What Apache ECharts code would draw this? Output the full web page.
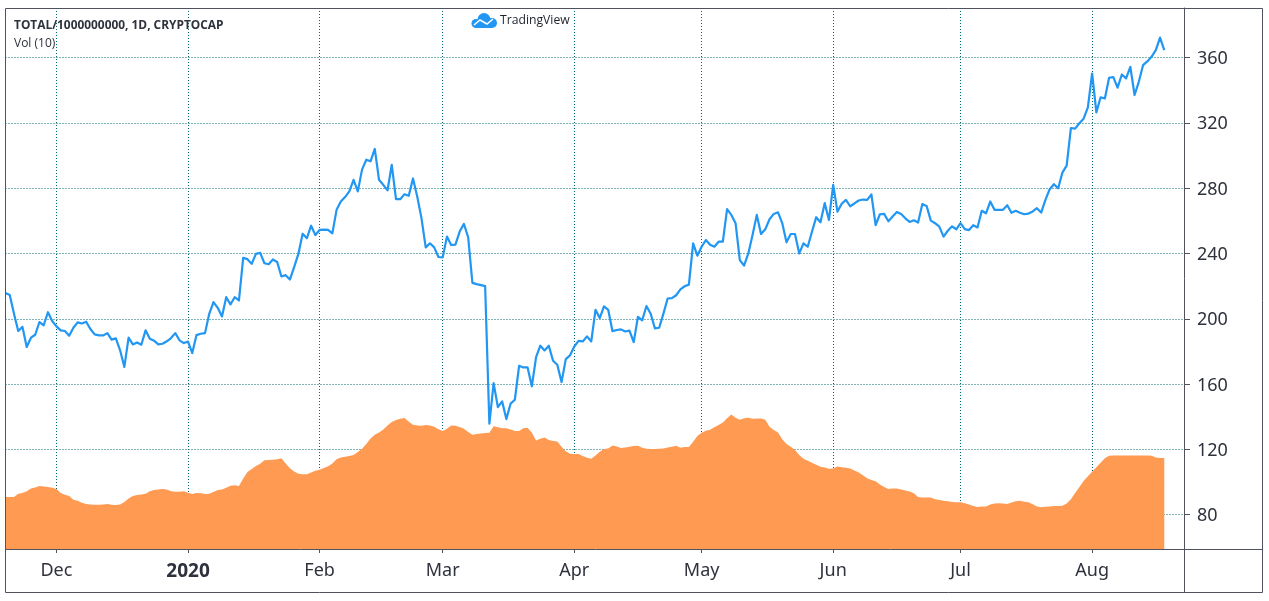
<!DOCTYPE html>
<html>
<head>
<meta charset="utf-8">
<title>TOTAL/1000000000, 1D, CRYPTOCAP</title>
<script src="https://cdn.jsdelivr.net/npm/echarts@6/dist/echarts.min.js"></script>
<style>
  html, body { margin: 0; padding: 0; background: #fff; }
  #main { width: 1269px; height: 601px; }
</style>
</head>
<body>
<div id="main"></div>
<script>
// daily values, first one is 2019-11-19
var firstDay = '2019-11-19';
var paddingDays = 5;

var priceValues = [
  215.7, 214.5, 203, 192.5, 195, 182.7, 188.4, 190.2, 198, 196, 204, 198.6,
  195.3, 192.9, 192.5, 189.6, 194.5, 197.8, 197.1, 198.2, 193.7, 190.4, 189.8, 189.8, 191.2, 187.2, 188, 180.7, 170.5, 188.4, 184.3, 185.5, 184.1, 192.9, 187.8, 186.6, 184.3, 184.7, 186.2, 188.2, 191.2, 186.8, 185.1,
  186, 179, 190, 190.8, 191.2, 203, 210.2, 206.7, 201.4, 213.2, 208.8, 213.2, 211.2, 237.3, 236.5, 233.6, 239.7, 240.3, 234, 233.4, 236.3, 234.8, 225.9, 226.7, 224, 231.6, 239.7, 252, 249.3, 257, 251.3,
  254.4, 254.6, 254.4, 252.3, 266.7, 271.8, 274.5, 278, 285.1, 278, 291.3, 297.4, 296.4, 304, 285.1, 282, 278.6, 294.3, 273.2, 273.2, 276.3, 275.3, 285.9, 274.9, 261.6, 243.7, 246.2, 243.7, 237.8,
  237.6, 250.3, 245.2, 245.4, 253.4, 258.1, 249.9, 222, 221.2, 220.6, 220, 135.7, 160.6, 145.9, 149.4, 138.6, 148, 150.4, 171.2, 170.2, 170.2, 158.6, 176.5, 183.5, 180.6, 183.5, 174.3, 171.8, 161.2, 175.3, 177.6,
  183, 186.5, 186.1, 189.2, 186.1, 205.5, 200.4, 207.6, 205.5, 192.4, 193.1, 193.5, 192.2, 192.7, 185.7, 201.2, 199, 207.8, 203.1, 194.1, 194.5, 203.1, 212.4, 212.6, 214.4, 218, 219.9, 220.9, 246.2, 238.6,
  244.1, 248.2, 245.3, 244.1, 247.2, 247.2, 267.1, 263.6, 258.5, 235.9, 232.6, 240, 251.3, 263.6, 251.9, 254.8, 260.9, 264.2, 265.2, 258.5, 246.8, 251.9, 251.9, 240, 246.2, 244.1, 253.3, 262.2, 259.1, 270.8, 260.5,
  282, 265.6, 270.4, 272.8, 268.9, 270.6, 272.4, 273, 272.8, 276.1, 257.4, 264, 264.2, 259.7, 262.6, 265.4, 264.2, 261.5, 259.3, 260.3, 258.9, 270.2, 269.1, 260.1, 258.5, 256.4, 250.3, 253.9, 256.6, 254.8,
  258.5, 254.9, 254.3, 257.3, 255.9, 266.1, 264.6, 271.8, 266.7, 266.7, 266.7, 269.5, 264.9, 266.1, 264.9, 264, 264.4, 265.7, 267.7, 265, 272.8, 279.3, 282.4, 279.9, 289.5, 293.8, 316.8, 316.4, 319.7, 322.5, 329.4,
  350.2, 326.4, 335.6, 334.9, 347.6, 348, 341.5, 349.6, 347.2, 354.3, 337, 345.1, 355.3, 357.6, 360.4, 364.5, 372.2, 364.5
];

// Vol (10) read against the same price scale, as it is drawn in the picture
var volumeValues = [
  90.8, 90.8, 90.8, 92.9, 93.3, 94.3, 96.1, 96.7, 97.6, 97.3, 96.9, 96.5,
  95.7, 93.3, 92.2, 91.4, 89.2, 88.6, 87.3, 86.5, 86.3, 86.1, 86.1, 86.3, 86.5, 86.1, 85.9, 86.3, 87.8, 90, 91.4, 92, 92.4, 92.9, 94.3, 95.1, 95.5, 95.7, 95.5, 94.3, 94.1, 94.1, 94.3,
  93.5, 92.7, 93.3, 93.1, 92.7, 92.9, 93.9, 95.1, 95.5, 96.5, 97.8, 98, 97.6, 102.2, 106.1, 108, 109.8, 111.2, 113.3, 113.5, 113.7, 113.9, 114.5, 111.4, 108.4, 106.5, 105.1, 104.7, 104.7, 105.9, 106.9,
  107.6, 108.6, 109.6, 111.4, 113.9, 115.1, 115.5, 115.9, 116.5, 118.4, 120.4, 123.3, 126.7, 129, 130.4, 132.2, 134.7, 136.7, 138, 138.8, 139.2, 136.9, 135.1, 134.7, 134.5, 134.9, 134.7, 133.9, 132.4,
  131.2, 132.7, 134.7, 134.5, 133.7, 132.7, 130.6, 129, 129.4, 129.8, 130, 130.2, 134.1, 133.5, 132.9, 132.9, 132.2, 131.2, 131.2, 132.9, 133.3, 130.2, 125.5, 126.5, 127.3, 125.7, 125.1, 124.9, 121.6, 118.8, 117.3,
  117.1, 117.1, 115.9, 114.9, 114.3, 116.3, 118.6, 120.2, 120.6, 122.4, 121.8, 120.8, 121.2, 121.6, 122, 122.2, 121, 120.4, 120.2, 120.2, 120.4, 120.6, 121.2, 121.6, 122.2, 121, 121.4, 121.4, 124.7, 128.2,
  130.2, 131.4, 132, 133.5, 135, 136.4, 139.1, 141.3, 139.3, 138.1, 139.1, 139.3, 138.7, 138.9, 138.9, 138.1, 133.9, 131.9, 130.3, 126.2, 123.3, 121.6, 119.6, 116.5, 114.3, 113, 111.8, 110.6, 109.3, 108.9, 108.1,
  108.3, 109.5, 109.1, 108.7, 108.3, 107.1, 105.8, 104.2, 102.4, 101.3, 100.5, 98.5, 97, 95.8, 96, 96, 95.4, 94.8, 94.2, 93.1, 90.9, 90.5, 90.5, 90.5, 89.4, 89, 88.6, 88.2, 87.8, 87.6,
  87.6, 87, 86.2, 85.3, 84.7, 85.1, 85.1, 86.2, 86.8, 87, 86.8, 86.6, 87.4, 88.2, 88.6, 88, 87.6, 86.4, 85.1, 84.5, 84.9, 85.1, 85.3, 85.3, 85.5, 86.8, 89.4, 93.3, 97, 100.7, 103.6,
  106.3, 109.1, 111.8, 114.5, 116.1, 116.3, 116.3, 116.3, 116.3, 116.3, 116.3, 116.3, 116.3, 116.3, 116.1, 115.1, 114.7, 114.7
];

var monthDays = ['2019-12-01', '2020-01-01', '2020-02-01', '2020-03-01', '2020-04-01', '2020-05-01', '2020-06-01', '2020-07-01', '2020-08-01'];
var monthLabels = ['Dec', '2020', 'Feb', 'Mar', 'Apr', 'May', 'Jun', 'Jul', 'Aug'];
var priceTicks = [80, 120, 160, 200, 240, 280, 320, 360];

var frameColor = '#50535e';
var textColor = '#2f323d';
var gridColor = '#00666a';

// category list, a few empty days on the right like the chart has
var days = [];
var start = Date.parse(firstDay + 'T00:00:00Z');
for (var i = 0; i < priceValues.length + paddingDays; i++) {
  days.push(new Date(start + i * 86400000).toISOString().slice(0, 10));
}

function isMonthDay (index, value) {
  return monthDays.indexOf(value) > -1;
}

var chart = echarts.init(document.getElementById('main'));

chart.setOption({
  animation: false,
  backgroundColor: '#fff',
  textStyle: { fontFamily: 'Noto Sans' },
  title: [
    {
      text: 'TOTAL/1000000000, 1D, CRYPTOCAP',
      left: 14, top: 20,
      padding: 0,
      textStyle: { fontFamily: 'Open Sans', fontSize: 11.9, fontWeight: 'bold', color: textColor }
    },
    {
      text: 'Vol (10)',
      left: 14, top: 37.5,
      padding: 0,
      textStyle: { fontFamily: 'Open Sans', fontSize: 12, fontWeight: 'normal', color: textColor }
    },
    {
      text: 'TradingView',
      left: 500, top: 15,
      padding: 0,
      textStyle: { fontFamily: 'Open Sans', fontSize: 12.2, fontWeight: 'normal', color: '#1e222d' }
    }
  ],
  grid: { left: 5.5, top: 8, right: 83.5, bottom: 52, containLabel: false },
  xAxis: {
    type: 'category',
    data: days,
    boundaryGap: false,
    axisLine: { lineStyle: { color: frameColor, width: 1 } },
    axisTick: { show: true, length: 4, interval: isMonthDay, lineStyle: { color: frameColor } },
    axisLabel: {
      interval: isMonthDay,
      margin: 13,
      fontSize: 18,
      color: textColor,
      formatter: function (value) {
        var label = monthLabels[monthDays.indexOf(value)];
        return label === '2020' ? '{year|' + label + '}' : label;
      },
      rich: { year: { fontFamily: 'Noto Sans', fontSize: 19, fontWeight: 'bold', color: textColor } }
    },
    splitLine: {
      show: true,
      interval: isMonthDay,
      lineStyle: { color: gridColor, width: 1, type: [1, 2] }
    }
  },
  yAxis: {
    type: 'value',
    position: 'right',
    offset: -1.5,
    min: 59,
    max: 390.3,
    axisLine: { show: true, lineStyle: { color: frameColor, width: 1 } },
    axisTick: { show: true, length: 6, customValues: priceTicks, lineStyle: { color: frameColor } },
    axisLabel: {
      customValues: priceTicks,
      margin: 13,
      formatter: function (value) {
        return '{price|' + value + '}';
      },
      rich: { price: { fontFamily: 'Noto Sans', fontSize: 18, color: textColor, padding: [3, 0, 0, 0] } }
    },
    splitLine: { show: true, lineStyle: { color: gridColor, width: 1, type: [1, 2] } }
  },
  series: [
    {
      name: 'Vol (10)',
      type: 'line',
      data: volumeValues,
      symbol: 'none',
      silent: true,
      lineStyle: { width: 0 },
      areaStyle: { color: '#ff9a52', opacity: 1, origin: 'start' },
      z: 2
    },
    {
      name: 'TOTAL',
      type: 'line',
      data: priceValues,
      symbol: 'none',
      silent: true,
      lineStyle: { color: '#2196f3', width: 2.2, join: 'round' },
      z: 3
    }
  ],
  graphic: [
    // outer frame and the two rules that run on past the plot
    { type: 'rect', shape: { x: 5.5, y: 8.5, width: 1257, height: 584 }, style: { fill: null, stroke: frameColor, lineWidth: 1 }, silent: true, z: 10 },
    { type: 'line', shape: { x1: 1184.5, y1: 549, x2: 1184.5, y2: 592 }, style: { stroke: frameColor, lineWidth: 1 }, silent: true, z: 10 },
    { type: 'line', shape: { x1: 1184, y1: 549.5, x2: 1262, y2: 549.5 }, style: { stroke: frameColor, lineWidth: 1 }, silent: true, z: 10 },
    // TradingView cloud
    { type: 'circle', shape: { cx: 476, cy: 23.5, r: 4.5 }, style: { fill: '#2196f3' }, silent: true, z: 10 },
    { type: 'circle', shape: { cx: 484, cy: 19.5, r: 6.5 }, style: { fill: '#2196f3' }, silent: true, z: 10 },
    { type: 'circle', shape: { cx: 492, cy: 23, r: 5 }, style: { fill: '#2196f3' }, silent: true, z: 10 },
    { type: 'rect', shape: { x: 476, y: 23, width: 16, height: 5 }, style: { fill: '#2196f3' }, silent: true, z: 10 },
    {
      type: 'polyline',
      shape: { points: [[474, 25], [480, 20], [487, 24], [493, 19]] },
      style: { stroke: '#fff', lineWidth: 1.6, fill: null },
      silent: true,
      z: 11
    }
  ]
});
</script>
</body>
</html>
